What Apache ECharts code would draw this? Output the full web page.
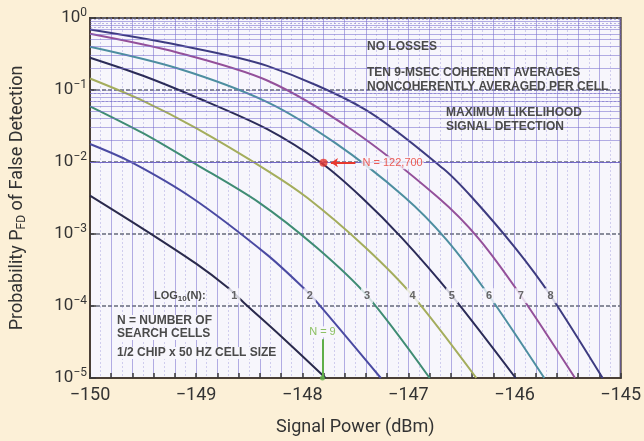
<!DOCTYPE html>
<html><head><meta charset="utf-8">
<script src="https://cdn.jsdelivr.net/npm/echarts@6/dist/echarts.min.js"></script>
<style>html,body{margin:0;padding:0;background:#FCF0D7;}#c{width:644px;height:441px;}</style>
</head><body><div id="c"></div>
<script>
// ---- data: [signal power dBm, P_FD] ----
const curve1 = [[-150,3.42e-3],[-149.5,1.18e-3],[-149.0,3.87e-4],[-148.7,1.79e-4],[-148.55,1.11e-4],[-148.2,3.79e-5],[-147.78,1e-5]];
const curve2 = [[-150,1.78e-2],[-149.62,1.01e-2],[-149.03,3.11e-3],[-148.33,5.13e-4],[-147.99,1.79e-4],[-147.87,1.17e-4],[-147.26,1e-5]];
const curve3 = [[-150,5.94e-2],[-149.5,2.51e-2],[-149.0,9.3e-3],[-148.41,2.75e-3],[-147.87,6.58e-4],[-147.39,1.39e-4],[-146.8,1e-5]];
const curve4 = [[-150,1.445e-1],[-149.5,7.08e-2],[-149.0,2.95e-2],[-148.33,7.6e-3],[-147.95,3.16e-3],[-147.41,6.6e-4],[-146.96,1.39e-4],[-146.36,1e-5]];
const curve5 = [[-150,2.81e-1],[-149.5,1.58e-1],[-149.0,7.94e-2],[-148.33,2.86e-2],[-147.81,9.44e-3],[-147.44,3.21e-3],[-147.06,8.75e-4],[-146.59,1.39e-4],[-145.99,1e-5]];
const curve6 = [[-150,3.99e-1],[-149.17,1.99e-1],[-148.33,6.8e-2],[-147.69,1.84e-2],[-147.04,3.3e-3],[-146.64,8.3e-4],[-146.24,1.39e-4],[-145.72,1e-5]];
const curve7 = [[-150,6.03e-1],[-149.17,3.30e-1],[-148.33,1.355e-1],[-147.53,2.78e-2],[-146.72,3.21e-3],[-146.34,8.7e-4],[-145.94,1.39e-4],[-145.43,1e-5]];
const curve8 = [[-150,6.9e-1],[-149.17,4.21e-1],[-148.33,2.16e-1],[-147.41,5.4e-2],[-146.67,8.05e-3],[-146.4,3.21e-3],[-145.99,6.3e-4],[-145.66,1.39e-4],[-145.17,1e-5]];
const curveNames = ['1','2','3','4','5','6','7','8'];
const labelX = [-148.64,-147.93,-147.39,-146.96,-146.59,-146.24,-145.94,-145.66];
const labelP = 1.39e-4;
const markN122700 = [-147.8, 9.8e-3];
const markN9 = [-147.81, 1e-5];
const markN9Top = 3.44e-5;
const xRange = [-150, -145];
const yRange = [1e-5, 1];

// ---- styles ----
const curves = [curve1,curve2,curve3,curve4,curve5,curve6,curve7,curve8];
const colors = ['#2a2a4c','#4a4aa2','#3f8c74','#a4ad5c','#2b2b58','#4d8ea0','#94509a','#3d3b80'];
const plotBg = '#F7F6FC';
const gridPurple = 'rgba(120,110,205,0.55)';

const minorVals = [], denseVals = [];
for (let e = -5; e < 0; e++) {
  for (let m = 2; m <= 9; m++) minorVals.push(m * Math.pow(10, e));
  [7.5, 8.5, 9.5].forEach(m => denseVals.push(m * Math.pow(10, e)));
}
const minus = s => String(s).replace('-', '\u2212');

const series = [];
series.push({type:'line', data:[], z:1, silent:true,
  markLine:{silent:true, symbol:'none', label:{show:false}, animation:false,
    lineStyle:{color:gridPurple, width:1, type:'solid'},
    data: minorVals.map(v => ({yAxis:v}))}});
series.push({type:'line', data:[], z:1, silent:true,
  markLine:{silent:true, symbol:'none', label:{show:false}, animation:false,
    lineStyle:{color:'rgba(110,100,190,0.45)', width:1, type:[2,2]},
    data: denseVals.map(v => ({yAxis:v}))}});
curves.forEach((c, i) => series.push({
  type:'line', data:c, z:3, symbol:'none', smooth:0.3,
  lineStyle:{color:colors[i], width:2, join:'round'}, animation:false
}));
series.push({type:'scatter', z:5, symbolSize:0, animation:false,
  data: labelX.map((x, i) => ({value:[x, labelP], name:curveNames[i]})),
  label:{show:true, position:'inside', formatter:'{b}', fontSize:11, fontWeight:'bold',
    fontFamily:'Liberation Sans', color:'#444', backgroundColor:plotBg, padding:[2,3]}});
series.push({type:'scatter', z:6, symbol:'circle', symbolSize:8, animation:false,
  itemStyle:{color:'#e8382e'}, data:[markN122700],
  label:{show:true, position:'right', distance:34, formatter:'N = 122,700', fontSize:11,
    fontFamily:'Liberation Sans', color:'#e8382e', backgroundColor:plotBg, padding:[1,1]},
  markLine:{silent:true, animation:false, symbol:['none','arrow'], symbolSize:7,
    label:{show:false}, lineStyle:{color:'#e8382e', width:2, type:'solid'},
    data:[[{coord:[markN122700[0]+0.3, markN122700[1]]},{coord:[markN122700[0]+0.07, markN122700[1]]}]]}});
series.push({type:'scatter', z:6, symbol:'circle', symbolSize:5, animation:false,
  itemStyle:{color:'#5fae4a'}, data:[markN9],
  markLine:{silent:true, animation:false, symbol:'none',
    label:{show:true, position:'start', formatter:'N = 9', fontSize:11, fontFamily:'Liberation Sans',
      color:'#8cc063', backgroundColor:plotBg, distance:2},
    lineStyle:{color:'#5fae4a', width:2, type:'solid'},
    data:[[{coord:[markN9[0], markN9Top]},{coord:[markN9[0], markN9[1]]}]]}});

const txt = (x, y, t, bg) => ({type:'text', left:x, top:y, z:10,
  style:Object.assign({text:t, fontSize:12, fontWeight:'bold', fontFamily:'Liberation Sans', fill:'#4a4a4a'}, bg ? {backgroundColor:plotBg} : {})});

const option = {
  backgroundColor:'#FCF0D7',
  animation:false,
  grid:{left:82, right:19, top:18, bottom:60, show:true, backgroundColor:plotBg, borderColor:'#4a3f36', borderWidth:2, containLabel:false},
  xAxis:{type:'value', min:xRange[0], max:xRange[1], interval:0.2,
    name:'Signal Power (dBm)', nameLocation:'middle', nameGap:40,
    nameTextStyle:{fontSize:18, fontFamily:'Roboto', color:'#333'},
    axisLine:{show:true, lineStyle:{color:'#4a3f36', width:2}},
    axisTick:{show:true, inside:true, length:5, lineStyle:{color:'#3a3a3a', width:1.5}},
    axisLabel:{fontSize:18, fontFamily:'Roboto', color:'#333', margin:8,
      formatter: v => Math.abs(v - Math.round(v)) < 1e-6 ? minus(Math.round(v)) : ''},
    splitLine:{show:true, lineStyle:{color:gridPurple, width:1}},
    minorTick:{show:false, splitNumber:2},
    minorSplitLine:{show:true, lineStyle:{color:'rgba(120,110,205,0.3)', width:1, type:[2,2]}}
  },
  yAxis:{type:'log', logBase:10, min:yRange[0], max:yRange[1],
    name:'{a|Probability P}{s|FD}{a| of False Detection}', nameLocation:'middle', nameGap:62, nameRotate:90,
    nameTextStyle:{rich:{a:{fontSize:18, fontFamily:'Roboto', color:'#333', lineHeight:22},
      s:{fontSize:12, fontFamily:'Roboto', color:'#333', verticalAlign:'bottom', lineHeight:14}}},
    axisLine:{show:true, lineStyle:{color:'#4a3f36', width:2}},
    axisTick:{show:true, inside:true, length:6, lineStyle:{color:'#3a3a3a', width:1.5}},
    axisLabel:{margin:3, formatter: v => '{b|10}{s|' + minus(Math.round(Math.log10(v))) + '}',
      rich:{b:{fontSize:17, fontFamily:'Roboto', color:'#333', lineHeight:22},
        s:{fontSize:12, fontFamily:'Roboto', color:'#333', verticalAlign:'top', lineHeight:14}}},
    splitLine:{show:true, lineStyle:{color:'#666a7a', width:1.5, type:[4,2]}}
  },
  series: series,
  graphic:[
    txt(367, 41, 'NO LOSSES'),
    txt(367, 67, 'TEN 9-MSEC COHERENT AVERAGES'),
    txt(367, 81, 'NONCOHERENTLY AVERAGED PER CELL'),
    txt(446, 107, 'MAXIMUM LIKELIHOOD'),
    txt(446, 121, 'SIGNAL DETECTION'),
    {type:'text', left:154, top:290, z:10, style:{text:'{a|LOG}{s|10}{a|(N):}',
      rich:{a:{fontSize:11, fontWeight:'bold', fontFamily:'Liberation Sans', fill:'#4a4a4a', lineHeight:14},
        s:{fontSize:8, fontWeight:'bold', fontFamily:'Liberation Sans', fill:'#4a4a4a', verticalAlign:'bottom', lineHeight:10}}}},
    txt(117, 315, 'N = NUMBER OF', true),
    txt(117, 328, 'SEARCH CELLS', true),
    txt(117, 347, '1/2 CHIP x 50 HZ CELL SIZE', true)
  ]
};
const chart = echarts.init(document.getElementById('c'), null, {renderer:'canvas'});
chart.setOption(option);
</script></body></html>
